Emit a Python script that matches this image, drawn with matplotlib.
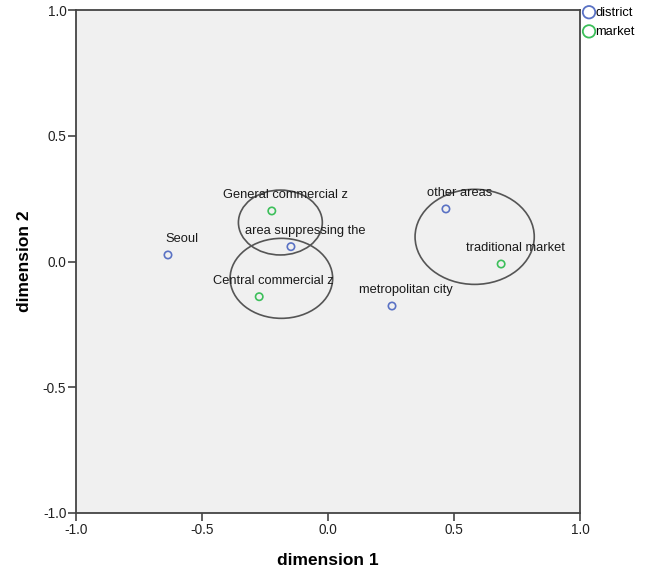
import matplotlib.pyplot as plt
from matplotlib.patches import Ellipse

plt.rcParams['font.family'] = ['Liberation Sans', 'DejaVu Sans']

# object points on the two dimensions
district_names = ['Seoul', 'area suppressing the', 'metropolitan city', 'other areas']
district_x = [-0.635, -0.147, 0.254, 0.468]
district_y = [0.026, 0.059, -0.177, 0.209]

market_names = ['General commercial z', 'Central commercial z', 'traditional market']
market_x = [-0.223, -0.273, 0.687]
market_y = [0.201, -0.140, -0.010]

# grouping ellipses: centre x, centre y, width, height
ell_x = [-0.189, -0.185, 0.582]
ell_y = [0.155, -0.067, 0.098]
ell_w = [0.333, 0.407, 0.473]
ell_h = [0.258, 0.318, 0.378]

ticks = [-1.0, -0.5, 0.0, 0.5, 1.0]
tick_labels = ['-1.0', '-0.5', '0.0', '0.5', '1.0']

blue = '#5a72c4'
green = '#3cbf5a'

fig = plt.figure(figsize=(6.49, 5.71), dpi=100)
ax = fig.add_axes([76 / 649, 58 / 571, 504 / 649, 503 / 571])
ax.set_facecolor('#f0f0f0')

for cx, cy, w, h in zip(ell_x, ell_y, ell_w, ell_h):
    ax.add_patch(Ellipse((cx, cy), w, h, fill=False, edgecolor='#555555', lw=1.2, zorder=2))

ax.scatter(district_x, district_y, s=28, facecolors='none', edgecolors=blue, linewidths=1.2, zorder=3)
ax.scatter(market_x, market_y, s=28, facecolors='none', edgecolors=green, linewidths=1.2, zorder=3)

for names, xs, ys in [(district_names, district_x, district_y), (market_names, market_x, market_y)]:
    for n, x, y in zip(names, xs, ys):
        ax.annotate(n, (x, y), xytext=(14, 16), textcoords='offset pixels',
                    ha='center', va='center', fontsize=9.3, color='#1a1a1a', zorder=4)

ax.set_xlim(-1, 1)
ax.set_ylim(-1, 1)
ax.set_xticks(ticks)
ax.set_xticklabels(tick_labels)
ax.set_yticks(ticks)
ax.set_yticklabels(tick_labels)
ax.tick_params(direction='out', length=6, width=1.2, color='#444444',
               labelsize=9.8, labelcolor='#222222', pad=1)
for sp in ax.spines.values():
    sp.set_color('#444444')
    sp.set_linewidth(1.3)

ax.set_xlabel('dimension 1', fontsize=12.5, fontweight='bold', labelpad=12)
ax.set_ylabel('dimension 2', fontsize=12.5, fontweight='bold', labelpad=8)

# legend outside the top right corner
h1 = ax.scatter([], [], s=80, facecolors='none', edgecolors=blue, linewidths=1.3)
h2 = ax.scatter([], [], s=80, facecolors='none', edgecolors=green, linewidths=1.3)
fig.legend([h1, h2], ['district', 'market'], loc='upper left',
           bbox_to_anchor=(580 / 649, 1 - 4 / 571), frameon=False, fontsize=9.3,
           handletextpad=0.0, handlelength=1.0, borderpad=0.2, labelspacing=0.55,
           borderaxespad=0)

fig.savefig('out.png', dpi=100)
